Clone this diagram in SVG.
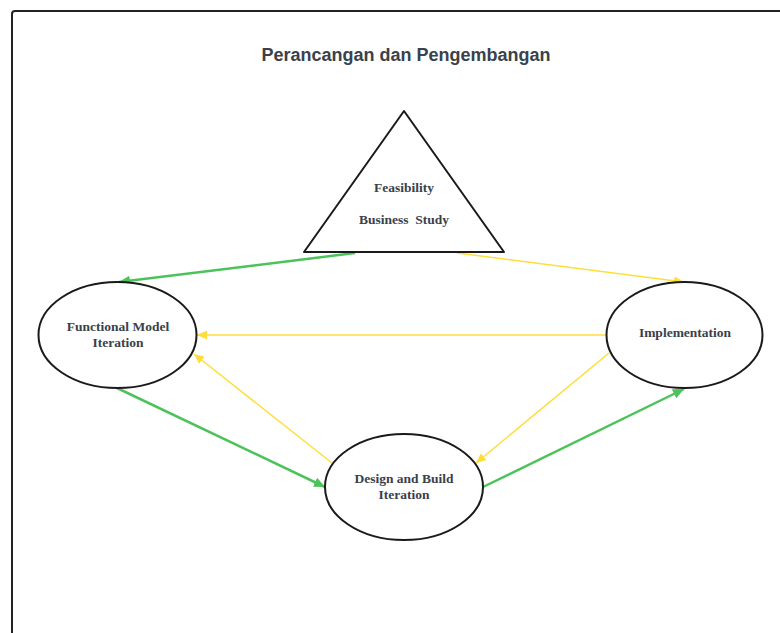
<svg xmlns="http://www.w3.org/2000/svg" width="780" height="633" viewBox="0 0 780 633">
<style>
.frame{fill:#fff;stroke:#222;stroke-width:2}
.node{fill:#fff;stroke:#1a1a1a;stroke-width:2}
.lbl{font-family:"Liberation Serif","DejaVu Serif",serif;font-weight:bold;font-size:13.5px;fill:#3a414a;text-anchor:middle}
.title{font-family:"Liberation Sans",Arial,sans-serif;font-weight:bold;font-size:18px;fill:#3a414a;text-anchor:middle}
.g{stroke:#4cc35a;stroke-width:2.5;fill:none}
.y{stroke:#ffdd3a;stroke-width:1.5;fill:none}
</style>
<defs>
<marker id="ag" markerUnits="userSpaceOnUse" markerWidth="12" markerHeight="10" refX="11" refY="5" orient="auto">
<path d="M0,0 L11,5 L0,10 Z" fill="#4cc35a"/>
</marker>
<marker id="ay" markerUnits="userSpaceOnUse" markerWidth="11" markerHeight="9" refX="10" refY="4.5" orient="auto">
<path d="M0,0 L10,4.5 L0,9 Z" fill="#ffdd3a"/>
</marker>
</defs>
<rect width="780" height="633" fill="#fff"/>
<rect class="frame" x="12" y="11" width="800" height="660" rx="3"/>
<text class="title" x="406" y="61">Perancangan dan Pengembangan</text>
<g id="connectors">
<line class="g" x1="355" y1="253" x2="119" y2="282" marker-end="url(#ag)"/>
<line class="y" x1="457" y1="253" x2="684" y2="282" marker-end="url(#ay)"/>
<line class="y" x1="606" y1="335" x2="197" y2="335" marker-end="url(#ay)"/>
<line class="y" x1="332" y1="463" x2="194" y2="354" marker-end="url(#ay)"/>
<line class="y" x1="609" y1="353" x2="476" y2="463" marker-end="url(#ay)"/>
<line class="g" x1="117" y1="388" x2="325" y2="487" marker-end="url(#ag)"/>
<line class="g" x1="483" y1="487" x2="684" y2="389" marker-end="url(#ag)"/>
</g>
<g id="feasibility">
<path class="node" d="M404,111 L504,252 L304,252 Z" stroke-linejoin="round"/>
<text class="lbl" x="404" y="192">Feasibility</text>
<text class="lbl" x="404" y="224" xml:space="preserve">Business  Study</text>
</g>
<g id="functional">
<ellipse class="node" cx="117.5" cy="335" rx="79" ry="53"/>
<text class="lbl" x="118" y="331">Functional Model</text>
<text class="lbl" x="118" y="347">Iteration</text>
</g>
<g id="implementation">
<ellipse class="node" cx="684.5" cy="335" rx="78" ry="53"/>
<text class="lbl" x="685" y="337">Implementation</text>
</g>
<g id="design">
<ellipse class="node" cx="404" cy="487" rx="79" ry="53"/>
<text class="lbl" x="404" y="483">Design and Build</text>
<text class="lbl" x="404" y="499">Iteration</text>
</g>
</svg>
